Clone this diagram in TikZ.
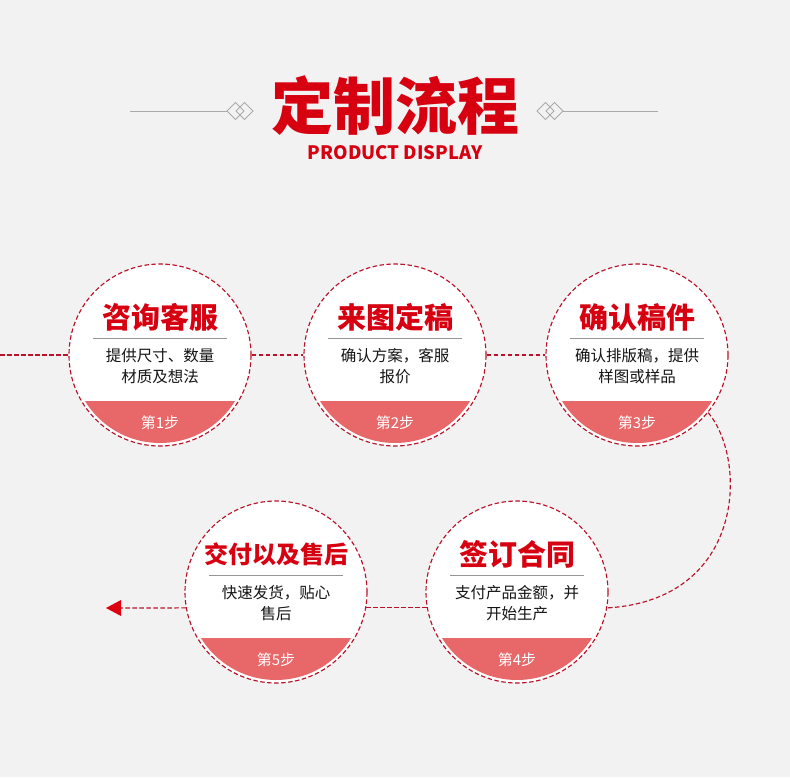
\documentclass[tikz,border=0pt]{standalone}
\usepackage{fontspec}
\setmainfont{Noto Sans CJK SC}
\definecolor{bg}{RGB}{242,242,242}
\definecolor{titlered}{RGB}{215,0,17}
\definecolor{dashred}{RGB}{185,18,42}
\definecolor{segred}{RGB}{232,104,106}
\definecolor{sepgray}{RGB}{150,150,150}
\definecolor{txt}{RGB}{20,20,20}
\definecolor{arrowred}{RGB}{221,0,17}
\definecolor{decogray}{RGB}{170,170,170}
\tikzset{
  dashline/.style={draw=dashred, line width=1.15pt, dash pattern=on 4.5pt off 2.5pt},
  stepdisc/.style={circle, minimum size=182pt, inner sep=0pt, fill=white, dashline},
  titletext/.style={text=titlered, inner sep=0pt},
  bodytext/.style={text=txt, inner sep=0pt, font=\fontsize{15.5}{17}\selectfont},
  steptext/.style={text=white, inner sep=0pt, font=\fontsize{15}{17}\selectfont},
  seprule/.style={draw=sepgray, line width=0.8pt},
  deco/.style={draw=decogray, line width=0.8pt}
}
\newcommand\stepcircle[8]{%
  \node[stepdisc] (#1) at (#2,#3) {};
  \begin{scope}
    \clip (#2,#3) circle (88pt);
    \fill[segred] ({#2-100},{#3+46}) rectangle ({#2+100},{#3+100});
  \end{scope}
  \node[titletext, font=\fontsize{#5}{#5}\selectfont\bfseries] (#1t) at (#2,{#3-38}) {#4};
  \draw[seprule] ({#2-67},{#3-17}) -- ({#2+67},{#3-17});
  \node[bodytext] (#1a) at (#2,{#3+1}) {#6};
  \node[bodytext] (#1b) at (#2,{#3+22}) {#7};
  \node[steptext] (#1s) at (#2,{#3+68}) {#8};
}
\begin{document}
\begin{tikzpicture}[x=1pt,y=-1pt]
\useasboundingbox[fill=bg] (0,0) rectangle (790,777);

% header
\node[text=titlered, inner sep=0pt, font=\fontsize{62}{62}\selectfont\bfseries] (title) at (395,106) {定制流程};
\node[text=titlered, inner sep=0pt, font=\fontsize{18.5}{20}\selectfont\bfseries] (subtitle) at (395,153) {PRODUCT DISPLAY};
\coordinate (ll) at (130,111);
\coordinate (lr) at (227,111);
\coordinate (rl) at (563,111);
\coordinate (rr) at (658,111);
\draw[deco] (ll) -- (lr);
\draw[deco] (rl) -- (rr);
\foreach \cx in {235.5,244.5,545.5,554.5}{
  \draw[deco] (\cx-8.5,111) -- (\cx,102.5) -- (\cx+8.5,111) -- (\cx,119.5) -- cycle;
}

% circles
\stepcircle{c1}{160}{355}{咨询客服}{29}{提供尺寸、数量}{材质及想法}{第1步}
\stepcircle{c2}{395}{355}{来图定稿}{29}{确认方案，客服}{报价}{第2步}
\stepcircle{c3}{637}{355}{确认稿件}{29}{确认排版稿，提供}{样图或样品}{第3步}
\stepcircle{c4}{517}{592}{签订合同}{29}{支付产品金额，并}{开始生产}{第4步}
\stepcircle{c5}{276}{592}{交付以及售后}{24}{快速发货，贴心}{售后}{第5步}

% connectors
\coordinate (start) at (0,355);
\coordinate (arrowbase) at (121,608);
\draw[dashline] (start) -- (c1.west);
\draw[dashline] (c1.east) -- (c2.west);
\draw[dashline] (c2.east) -- (c3.west);
\draw[dashline] (c3.-39) .. controls (748,460) and (745,600) .. (c4.-10);
\draw[dashline] (c4.190) -- (c5.-10);
\draw[dashline] (c5.190) -- (arrowbase);
\fill[arrowred] (106,608) -- (121,600) -- (121,616) -- cycle;
\end{tikzpicture}
\end{document}
